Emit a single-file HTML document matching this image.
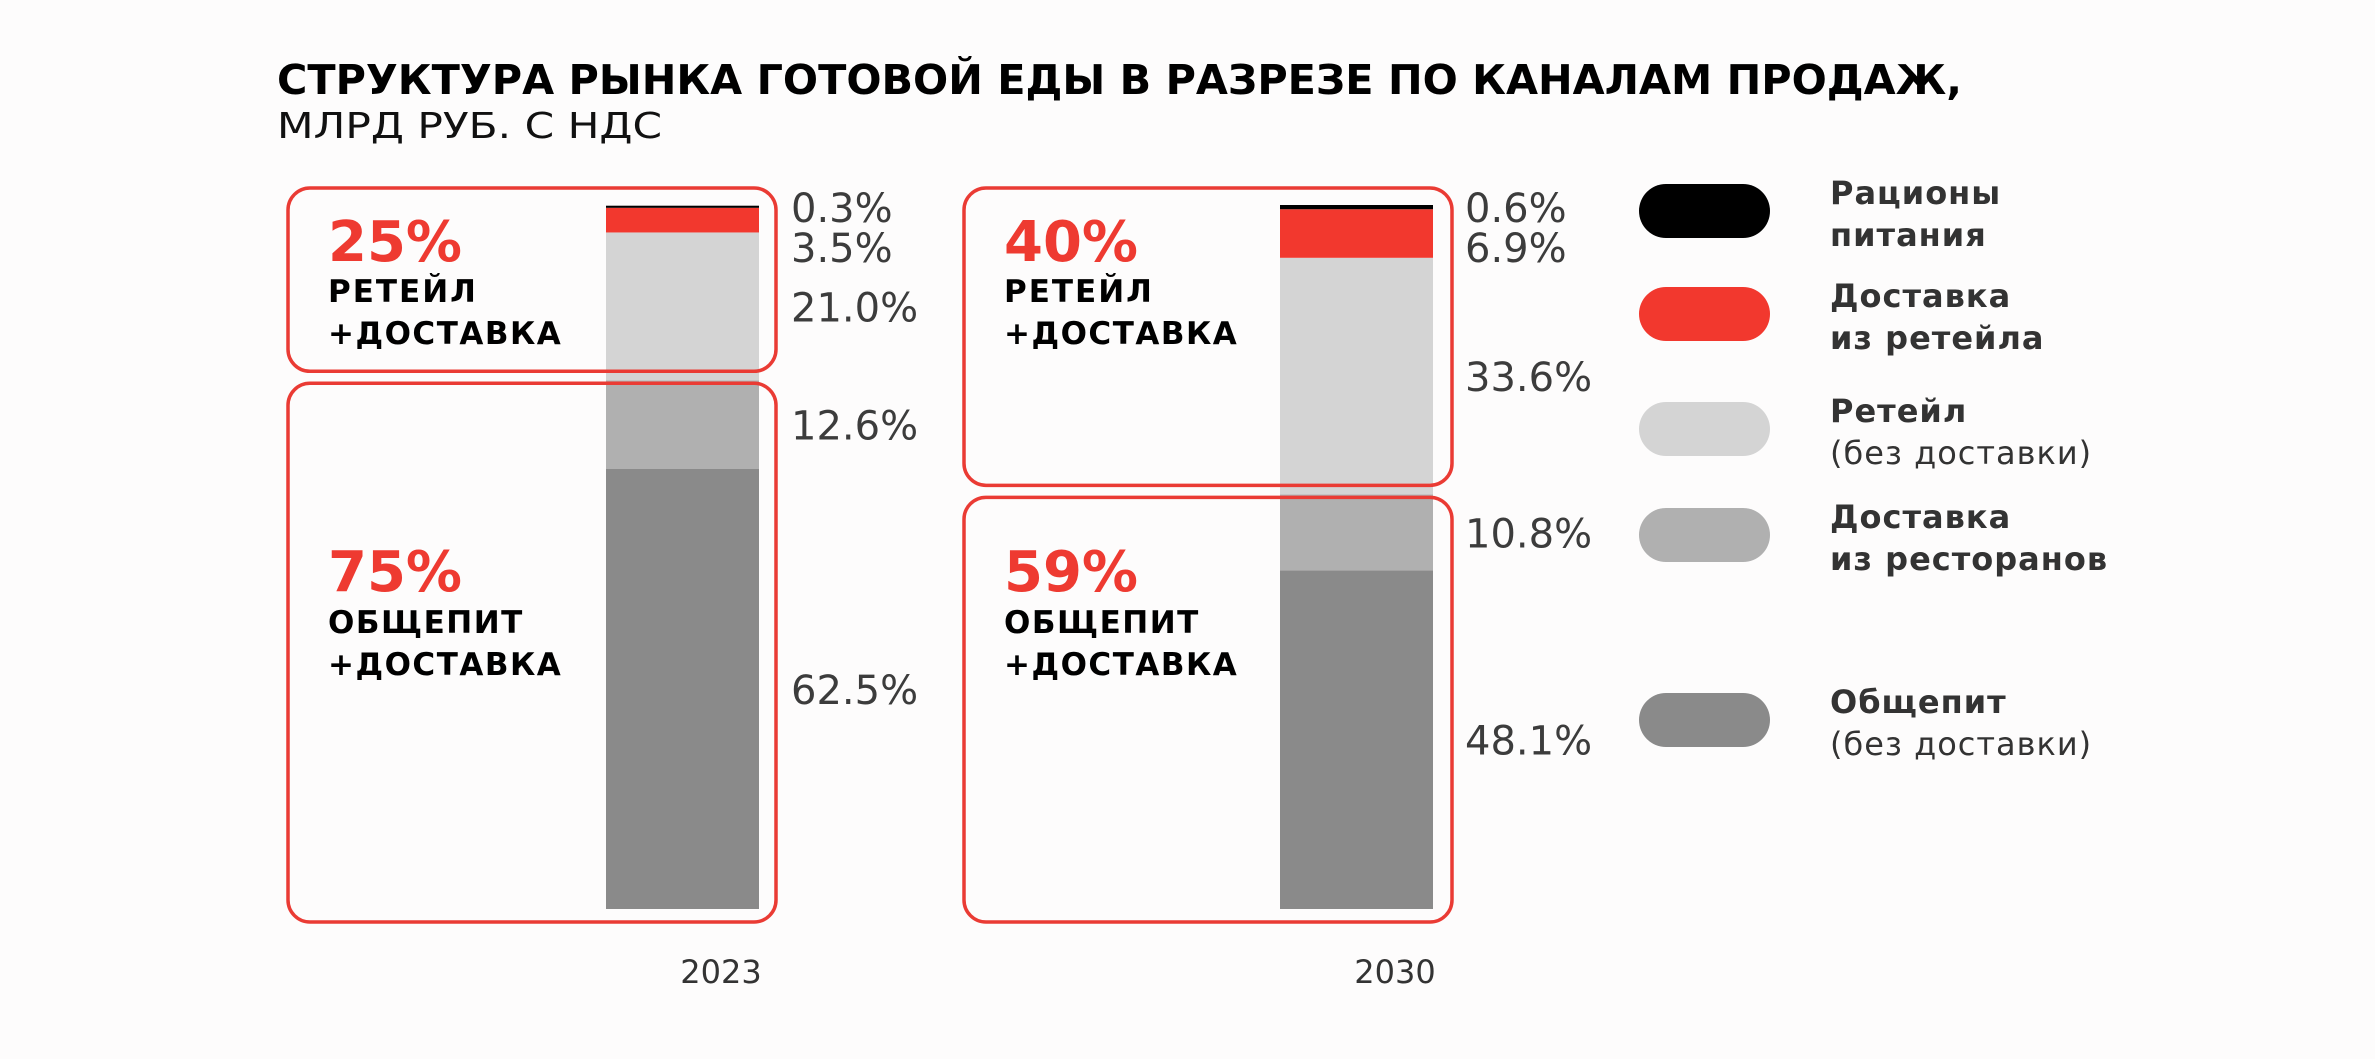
<!DOCTYPE html>
<html><head><meta charset="utf-8"><style>
html,body{margin:0;padding:0;background:#fdfcfc}
svg{display:block}
text{font-family:"DejaVu Sans","Liberation Sans",sans-serif}
</style></head><body>
<svg id="chart" width="2375" height="1059" viewBox="0 0 2375 1059" xmlns="http://www.w3.org/2000/svg">
<rect width="2375" height="1059" fill="#fdfcfc"/>
<text x="277" y="94" font-size="41" font-weight="bold" fill="#000" textLength="1685" lengthAdjust="spacingAndGlyphs">СТРУКТУРА РЫНКА ГОТОВОЙ ЕДЫ В РАЗРЕЗЕ ПО КАНАЛАМ ПРОДАЖ,</text>
<text x="277" y="138" font-size="36" fill="#111" textLength="385" lengthAdjust="spacingAndGlyphs">МЛРД РУБ. С НДС</text>
<g id="bars"></g>
<g id="legend"></g>
</svg>
<script>
const years = ['2023', '2030'];
const seriesNames = ['Общепит', 'Доставка из ресторанов', 'Ретейл', 'Доставка из ретейла', 'Рационы питания'];
const values2023 = [62.5, 12.6, 21.0, 3.5, 0.3];
const values2030 = [48.1, 10.8, 33.6, 6.9, 0.6];
const retailShare = [25, 40];
const foodserviceShare = [75, 59];

const colors = ['#8a8a8a', '#b0b0b0', '#d4d4d4', '#f2382e', '#000000'];
const NS = 'http://www.w3.org/2000/svg';
const bars = document.getElementById('bars');
const legend = document.getElementById('legend');
const y0 = 909, y100 = 205;
function yScale(v){ return y0 - (y0 - y100) * v / 100; }
const barX = [606, 1280], barW = 153;
const boxX = [288, 964], boxW = 488;

function mk(tag, attrs, parent){ const e = document.createElementNS(NS, tag); for (const k in attrs) e.setAttribute(k, attrs[k]); parent.appendChild(e); return e; }

const allVals = [values2023, values2030];
years.forEach((yr, i) => {
  const vals = allVals[i];
  let cum = 0;
  const centers = [];
  vals.forEach((v, j) => {
    const yt = yScale(cum + v), yb = yScale(cum);
    const r = mk('rect', {x: barX[i], y: yt, width: barW, height: yb - yt, fill: colors[j]}, bars);
    
    
    centers.push((yt + yb) / 2);
    cum += v;
  });
  const ly = centers.slice();
  const n = ly.length;
  ly[n - 1] = Math.max(ly[n - 1], yScale(cum));
  for (let j = n - 2; j >= 0; j--) ly[j] = Math.max(ly[j], ly[j + 1] + 40);
  vals.forEach((v, j) => {
    const t = mk('text', {x: barX[i] + barW + 32, y: ly[j] + 15, 'font-size': 40, fill: '#3c3c3c'}, bars);
    t.textContent = v.toFixed(1) + '%';
    
    
  });
  const split = yScale(vals[0] + vals[1]);
  const b1 = mk('rect', {x: boxX[i], y: 188, width: boxW, height: split - 9 - 188, rx: 22, fill: 'none', stroke: '#ea3b34', 'stroke-width': 3.5}, bars);
  
  
  const b2 = mk('rect', {x: boxX[i], y: split + 3, width: boxW, height: 919 - split, rx: 22, fill: 'none', stroke: '#ea3b34', 'stroke-width': 3.5}, bars);
  
  
  const tx = boxX[i] + 40;
  const p1 = mk('text', {x: tx, y: 261, 'font-size': 56, 'font-weight': 'bold', fill: '#ee3a31'}, bars);
  p1.textContent = retailShare[i] + '%';
  
  
  const l1 = mk('text', {x: tx, y: 302, 'font-size': 31, 'font-weight': 'bold', fill: '#000', 'letter-spacing': 2}, bars);
  l1.textContent = 'РЕТЕЙЛ';
  
  
  const l2 = mk('text', {x: tx, y: 344, 'font-size': 31, 'font-weight': 'bold', fill: '#000', 'letter-spacing': 1.5}, bars);
  l2.textContent = '+ДОСТАВКА';
  
  
  const fy = 591;
  const p2 = mk('text', {x: tx, y: fy, 'font-size': 56, 'font-weight': 'bold', fill: '#ee3a31'}, bars);
  p2.textContent = foodserviceShare[i] + '%';
  
  
  const l3 = mk('text', {x: tx, y: fy + 42, 'font-size': 31, 'font-weight': 'bold', fill: '#000', 'letter-spacing': 1.5}, bars);
  l3.textContent = 'ОБЩЕПИТ';
  
  
  const l4 = mk('text', {x: tx, y: fy + 84, 'font-size': 31, 'font-weight': 'bold', fill: '#000', 'letter-spacing': 1.5}, bars);
  l4.textContent = '+ДОСТАВКА';
  
  
  const yl = mk('text', {x: barX[i] + barW - 38, y: 983, 'font-size': 32, fill: '#333', 'text-anchor': 'middle'}, bars);
  yl.textContent = yr;
  
  
});

const legendItems = [
  ['Рационы', 'питания', true, 211, 4],
  ['Доставка', 'из ретейла', true, 314, 3],
  ['Ретейл', '(без доставки)', false, 429, 2],
  ['Доставка', 'из ресторанов', true, 535, 1],
  ['Общепит', '(без доставки)', false, 720, 0]
];
legendItems.forEach((it, k) => {
  const g = mk('g', {}, legend);
  
  
  const sw = mk('rect', {x: 1639, y: it[3] - 27, width: 131, height: 54, rx: 27, fill: colors[it[4]]}, g);
  
  
  const t1 = mk('text', {x: 1830, y: it[3] - 7, 'font-size': 32, 'font-weight': 'bold', fill: '#333', 'letter-spacing': 1}, g);
  t1.textContent = it[0];
  
  
  const t2 = mk('text', {x: 1830, y: it[3] + 35, 'font-size': 32, 'font-weight': it[2] ? 'bold' : 'normal', fill: '#333', 'letter-spacing': 1}, g);
  t2.textContent = it[1];
  
  
});
</script>
</body></html>
